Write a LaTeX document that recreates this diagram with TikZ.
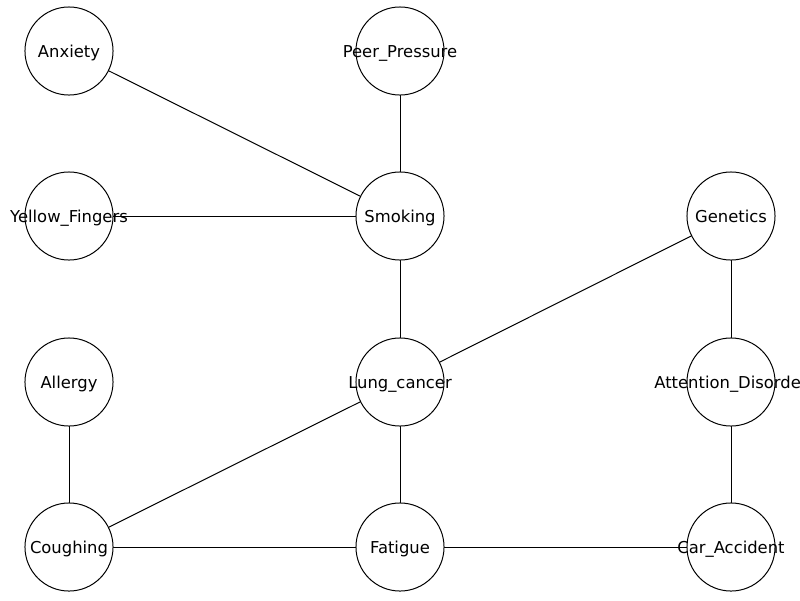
\documentclass[tikz,border=0pt]{standalone}
\usepackage{fontspec}
\setmainfont{DejaVu Sans}
\usetikzlibrary{backgrounds}
\begin{document}
\begin{tikzpicture}[x=0.72pt, y=-0.72pt,
  var/.style={circle, draw=black, fill=white, line width=0.72pt,
    minimum size=63.4pt, inner sep=0pt, outer sep=0pt},
  vlabel/.style={font=\fontsize{11.8}{13}\selectfont, inner sep=0pt,
    text height=0.76em, text depth=0.24em, yshift=-2pt},
  link/.style={draw=black, line width=0.72pt}]
  \useasboundingbox (0,0) rectangle (800,600);
  \begin{scope}
  \clip (0,0) rectangle (800,600);
  % variables
  \node[var, label={[vlabel]center:Anxiety}] (anx) at (69,51) {};
  \node[var, label={[vlabel]center:Peer\_Pressure}] (peer) at (400,51) {};
  \node[var, label={[vlabel]center:Yellow\_Fingers}] (yf) at (69,216) {};
  \node[var, label={[vlabel]center:Smoking}] (smk) at (400,216) {};
  \node[var, label={[vlabel]center:Genetics}] (gen) at (731,216) {};
  \node[var, label={[vlabel]center:Allergy}] (all) at (69,382) {};
  \node[var, label={[vlabel]center:Lung\_cancer}] (lung) at (400,382) {};
  \node[var, label={[vlabel]center:Attention\_Disorder}] (att) at (731,382) {};
  \node[var, label={[vlabel]center:Coughing}] (cough) at (69,547) {};
  \node[var, label={[vlabel]center:Fatigue}] (fat) at (400,547) {};
  \node[var, label={[vlabel]center:Car\_Accident}] (car) at (731,547) {};
  % links
  \begin{scope}[on background layer]
    \draw[link] (anx) -- (smk);
    \draw[link] (peer) -- (smk);
    \draw[link] (yf) -- (smk);
    \draw[link] (smk) -- (lung);
    \draw[link] (gen) -- (lung);
    \draw[link] (gen) -- (att);
    \draw[link] (all) -- (cough);
    \draw[link] (cough) -- (lung);
    \draw[link] (lung) -- (fat);
    \draw[link] (cough) -- (fat);
    \draw[link] (fat) -- (car);
    \draw[link] (att) -- (car);
  \end{scope}
  \end{scope}
\end{tikzpicture}
\end{document}
